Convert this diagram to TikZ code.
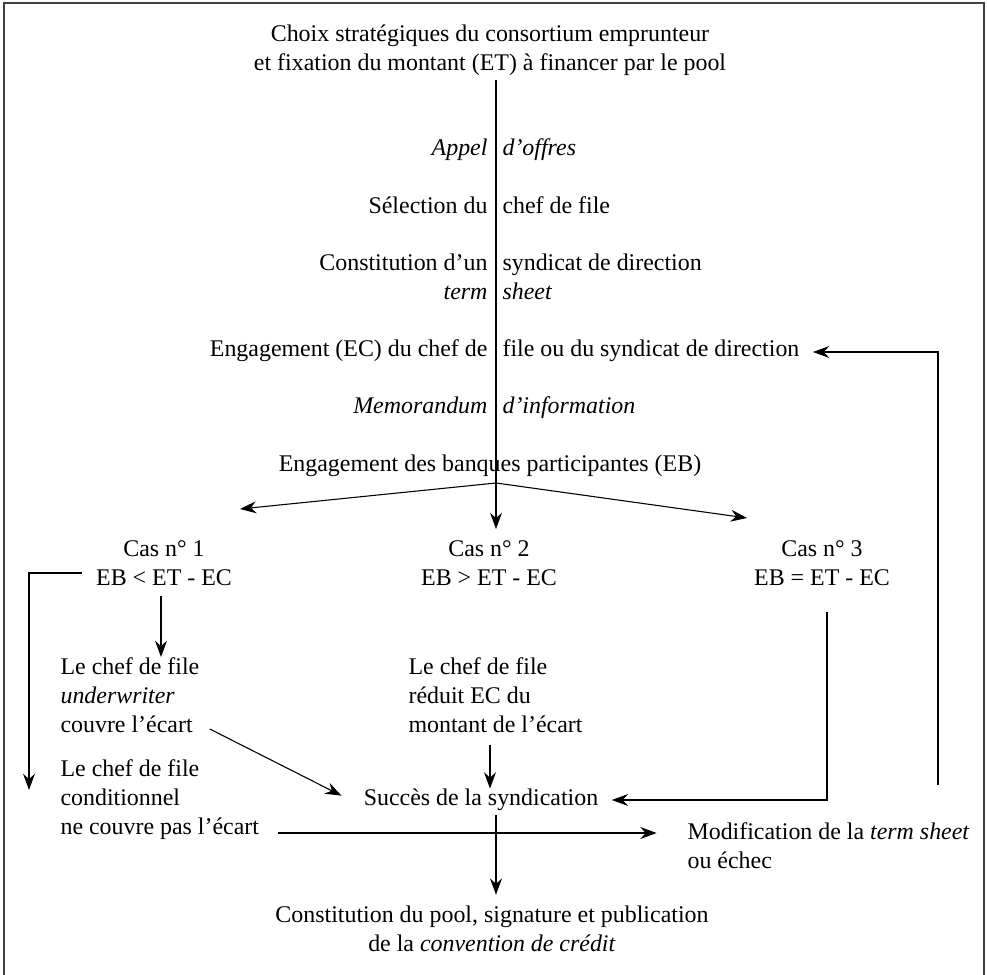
\documentclass[tikz,border=0pt]{standalone}
\usepackage{fontspec}
\setmainfont{Liberation Serif}
\usetikzlibrary{arrows.meta}
\begin{document}
\begin{tikzpicture}[x=0.46pt,y=-0.46pt,line width=0.5pt,
  txt/.style={inner sep=0pt,font=\fontsize{11}{13.3}\selectfont},
  lg/.style={txt,anchor=base east},
  ld/.style={txt,anchor=base west},
  bloc/.style={txt,align=left,anchor=west},
  flow/.style={-{Stealth[length=7.5pt,width=5.5pt,inset=2.5pt]}}]
\useasboundingbox (0,0) rectangle (987,975);
% cadre
\draw[line width=0.9pt,black!75] (4,975) -- (4,3) -- (984,3) -- (984,975);

\node[txt,align=center] (choix) at (490,50) {Choix stratégiques du consortium emprunteur\\et fixation du montant (ET) à financer par le pool};

% etapes de part et d'autre de l'axe
\node[lg] (appelG) at (488,155) {\textit{Appel}};
\node[ld] (appelD) at (502,155) {\textit{d'offres}};
\node[lg] (selG) at (488,213) {Sélection du};
\node[ld] (selD) at (502,213) {chef de file};
\node[lg] (constG) at (488,270) {Constitution d'un};
\node[ld] (constD) at (502,270) {syndicat de direction};
\node[lg] (termG) at (488,299) {\textit{term}};
\node[ld] (termD) at (502,299) {\textit{sheet}};
\node[lg] (ecG) at (488,356) {Engagement (EC) du chef de};
\node[ld] (ecD) at (502,356) {file ou du syndicat de direction};
\node[lg] (memoG) at (488,413) {\textit{Memorandum}};
\node[ld] (memoD) at (502,413) {\textit{d'information}};
\node[txt,anchor=base] (eb) at (490,471) {Engagement des banques participantes (EB)};

% les trois cas
\node[txt,align=center] (cas1) at (164,563) {Cas n° 1\\EB < ET - EC};
\node[txt,align=center] (cas2) at (489,563) {Cas n° 2\\EB > ET - EC};
\node[txt,align=center] (cas3) at (822,563) {Cas n° 3\\EB = ET - EC};

\node[bloc] (under) at (60,695) {Le chef de file\\\textit{underwriter}\\couvre l'écart};
\node[bloc] (reduit) at (408,695) {Le chef de file\\réduit EC du\\montant de l'écart};
\node[bloc] (condi) at (60,800) {Le chef de file\\conditionnel\\ne couvre pas l'écart};
\node[txt] (succes) at (481,800) {Succès de la syndication};
\node[bloc] (modif) at (687,846) {Modification de la \textit{term sheet}\\ou échec};
\node[txt,align=center] (pool) at (492,929) {Constitution du pool, signature et publication\\de la \textit{convention de crédit}};

% points de passage
\coordinate (haut) at (496,80);
\coordinate (fourche) at (496,483);
\coordinate (cas1in) at (240,509);
\coordinate (cas2in) at (496,529);
\coordinate (cas3in) at (747,518);
\coordinate (gauche) at (82,573);
\coordinate (condin) at (29,790);
\coordinate (cas3out) at (827,612);
\coordinate (retour) at (938,785);

\draw (haut) -- (fourche);
\draw[flow] (fourche) -- (cas2in);
\draw[flow] (fourche) -- (cas1in);
\draw[flow] (fourche) -- (cas3in);
\draw[flow] (gauche) -| (condin);
\draw[flow] (cas1.south -| 161,0) ++(0,10) -- (under.north -| 161,0);
\draw[flow] (under.east |- 0,729) ++(10,0) -- ([shift={(-10pt,2pt)}]succes.west);
\draw[flow] (reduit.south -| 490,0) ++(0,12) -- (succes.north -| 490,0);
\draw[flow] (cas3out) |- ([xshift=6pt]succes.east);
\draw[flow] (condi.east |- 0,833) ++(18,0) -- ([xshift=-14pt]modif.west |- 0,833);
\draw[flow] (succes.south -| 496,0) ++(0,4) -- ([yshift=5pt]pool.north -| 496,0);
\draw[flow] (retour) |- ([xshift=6pt]ecD.east |- 0,352);
\end{tikzpicture}
\end{document}
